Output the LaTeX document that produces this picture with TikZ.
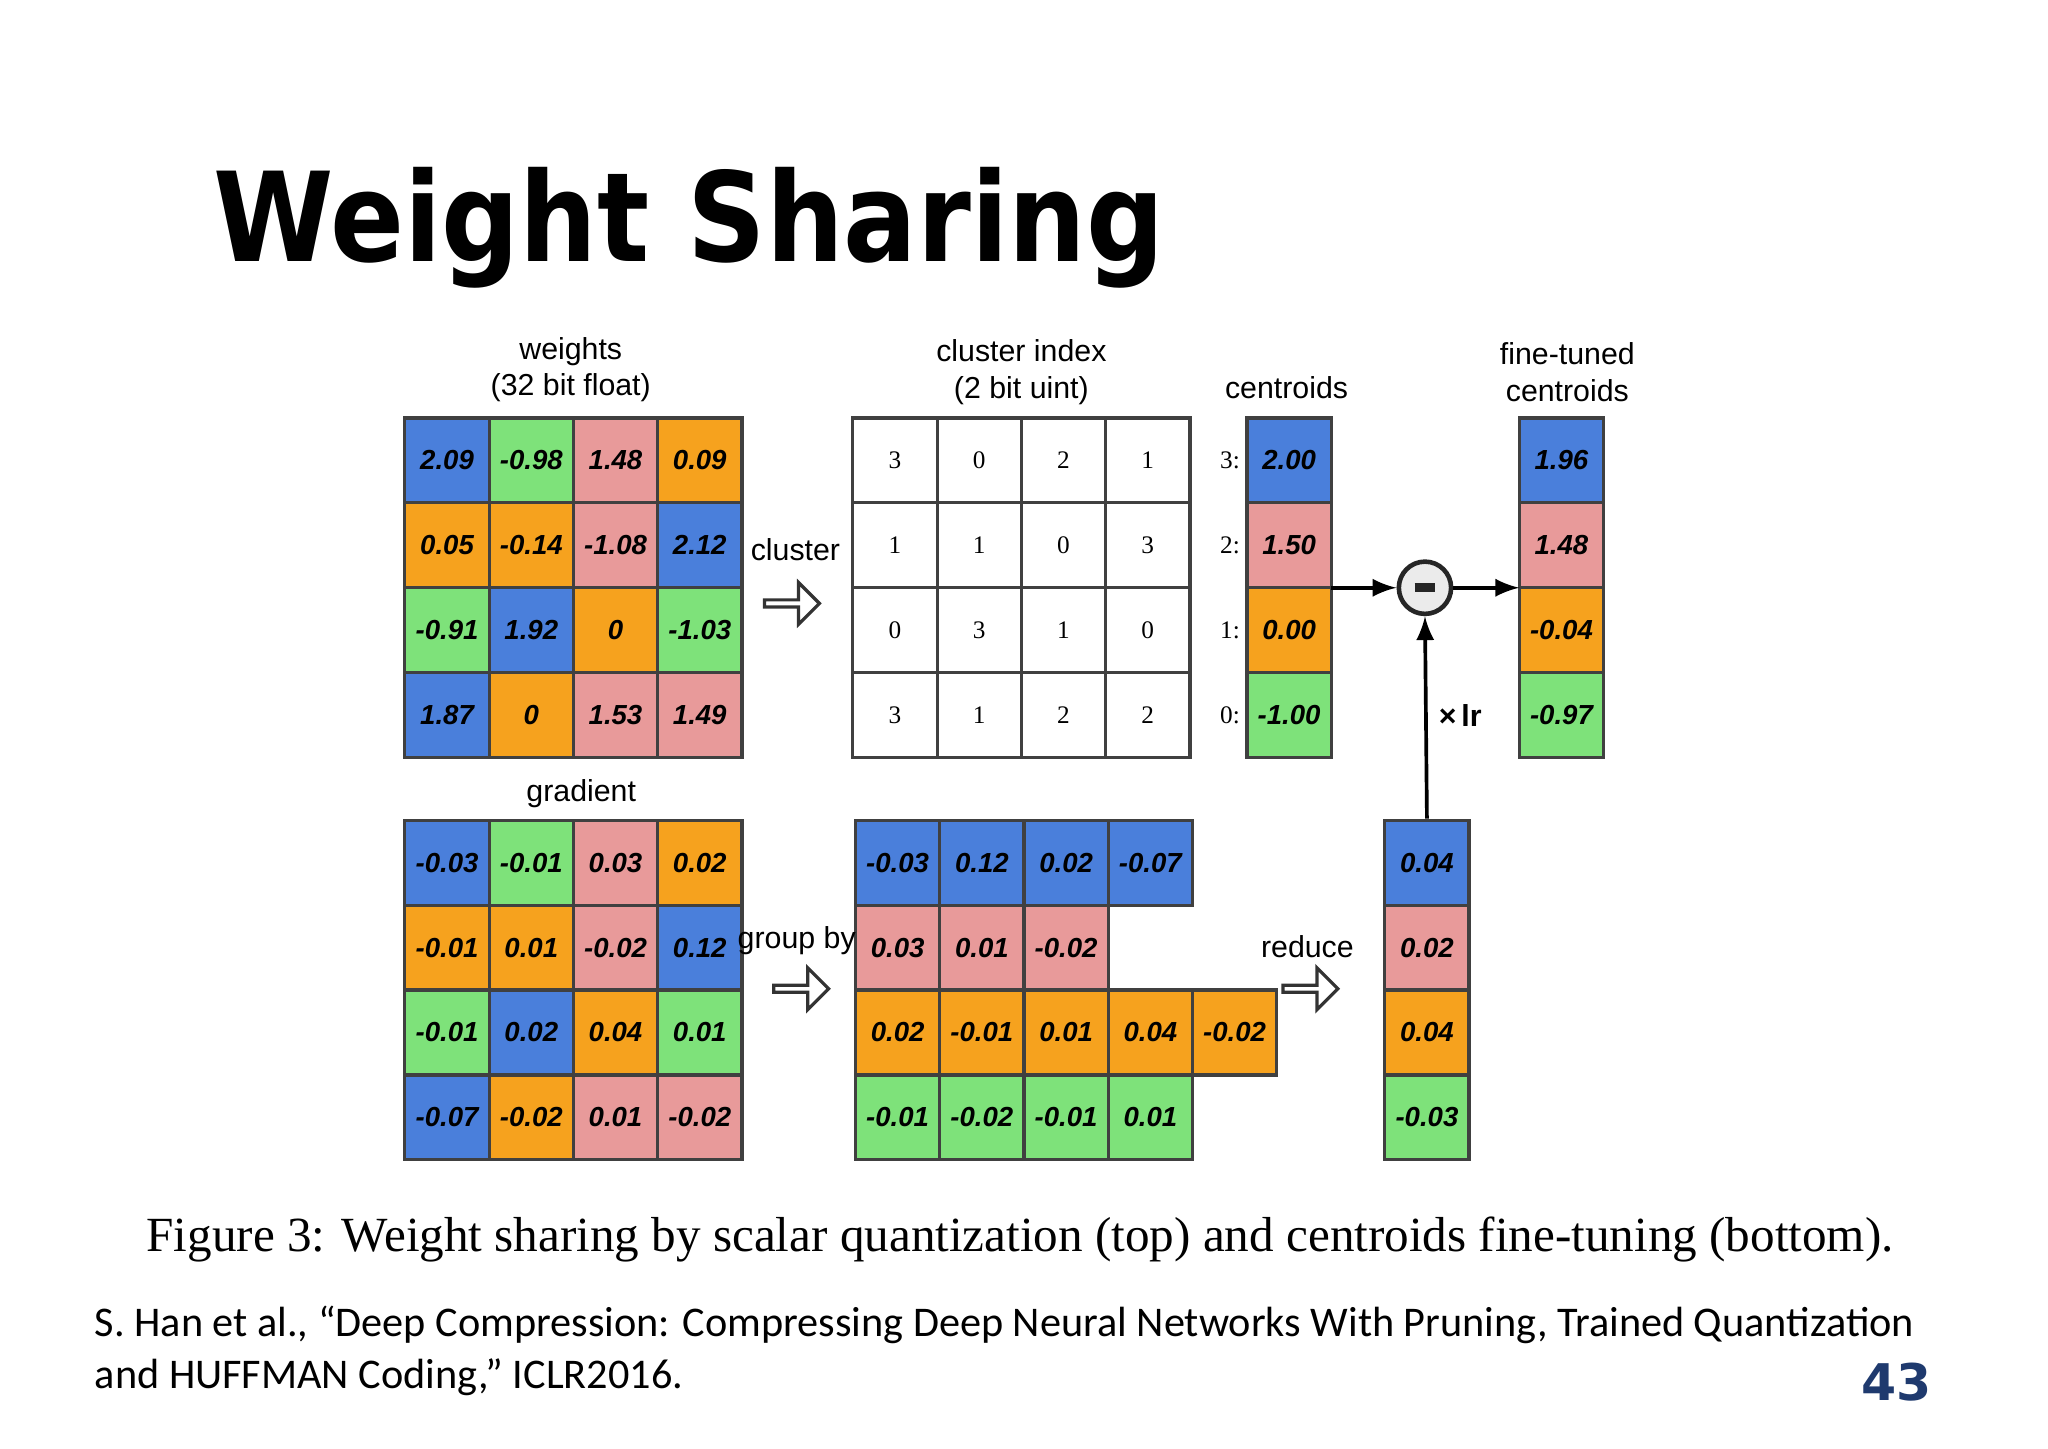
\documentclass[tikz,border=0pt]{standalone}
\usepackage{fontspec}
\setmainfont{Liberation Serif}
\setsansfont{Liberation Sans}
\newfontfamily\titlefont{DejaVu Sans}
\newfontfamily\citefont{Carlito}
\usetikzlibrary{shapes.arrows}
\definecolor{cB}{HTML}{4A7FDB}
\definecolor{cG}{HTML}{7EE27A}
\definecolor{cP}{HTML}{E89A9A}
\definecolor{cO}{HTML}{F6A21E}
\definecolor{navy}{HTML}{1F3A6E}
\tikzset{
 cell/.style={draw=black!75,line width=0.7pt,minimum width=0.645cm,minimum height=0.65cm,inner sep=0pt,font=\sffamily\bfseries\itshape\fontsize{6}{7}\selectfont},
 icell/.style={draw=black!75,line width=0.7pt,fill=white,minimum width=0.645cm,minimum height=0.65cm,inner sep=0pt,font=\rmfamily\fontsize{5.5}{6}\selectfont},
 lbl/.style={font=\sffamily\fontsize{6.6}{8}\selectfont,align=center,inner sep=0pt},
 harrow/.style={single arrow,draw=black!80,fill=white,line width=0.7pt,minimum height=0.42cm,minimum width=0.32cm,single arrow head extend=0.06cm,inner sep=0pt},
 conn/.style={-latex,line width=0.8pt}
}
\begin{document}
\begin{tikzpicture}[x=0.01cm,y=-0.01cm]
\useasboundingbox[fill=white] (0,0) rectangle (1568,1109);
\node[anchor=base west,inner sep=0pt,xscale=0.88,transform shape,font=\titlefont\bfseries\fontsize{27}{30}\selectfont] (title) at (163,200) {Weight Sharing};
% weights
\foreach \r/\row in {1/{cB/2.09,cG/-0.98,cP/1.48,cO/0.09},2/{cO/0.05,cO/-0.14,cP/-1.08,cB/2.12},3/{cG/-0.91,cB/1.92,cO/0,cG/-1.03},4/{cB/1.87,cO/0,cP/1.53,cP/1.49}}{
 \foreach \col/\v [count=\c] in \row {
  \node[cell,fill=\col] (w\r\c) at ({310+64.5*(\c-0.5)},{320+65*(\r-0.5)}) {\v};
  \node[cell,fill=\col] (g\r\c) at ({310+64.5*(\c-0.5)},{628+65*(\r-0.5)}) {};
 }}
\foreach \r/\row in {1/{-0.03,-0.01,0.03,0.02},2/{-0.01,0.01,-0.02,0.12},3/{-0.01,0.02,0.04,0.01},4/{-0.07,-0.02,0.01,-0.02}}{
 \foreach \v [count=\c] in \row {\node[cell,draw=none] at (g\r\c) {\v};}}
% cluster index
\foreach \r/\row in {1/{3,0,2,1},2/{1,1,0,3},3/{0,3,1,0},4/{3,1,2,2}}{
 \foreach \v [count=\c] in \row {
  \node[icell] (i\r\c) at ({653+64.5*(\c-0.5)},{320+65*(\r-0.5)}) {\v};}}
% centroids
\foreach \col/\v/\k [count=\r] in {cB/2.00/3,cP/1.50/2,cO/0.00/1,cG/-1.00/0}{
 \node[cell,fill=\col] (c\r) at (987,{320+65*(\r-0.5)}) {\v};
 \node[font=\rmfamily\fontsize{5.5}{6}\selectfont,anchor=east,inner sep=1pt] at (c\r.west) {\k:};}
\foreach \col/\v [count=\r] in {cB/1.96,cP/1.48,cO/-0.04,cG/-0.97}{
 \node[cell,fill=\col] (f\r) at (1195.5,{320+65*(\r-0.5)}) {\v};}
% grouped
\foreach \r/\col/\row in {1/cB/{-0.03,0.12,0.02,-0.07},2/cP/{0.03,0.01,-0.02},3/cO/{0.02,-0.01,0.01,0.04,-0.02},4/cG/{-0.01,-0.02,-0.01,0.01}}{
 \foreach \v [count=\c] in \row {
  \node[cell,fill=\col] (q\r\c) at ({655+64.5*(\c-0.5)},{628+65*(\r-0.5)}) {\v};}}
% reduced
\foreach \col/\v [count=\r] in {cB/0.04,cP/0.02,cO/0.04,cG/-0.03}{
 \node[cell,fill=\col] (d\r) at (1092.5,{628+65*(\r-0.5)}) {\v};}
% labels
\node[lbl] (lw) at (437,283) {weights\\(32 bit float)};
\node[lbl] (li) at (782,285) {cluster index\\(2 bit uint)};
\node[lbl] (lc) at (985,297) {centroids};
\node[lbl] (lf) at (1200,285) {fine-tuned\\centroids};
\node[lbl] (lg) at (445,608) {gradient};
\node[lbl] (lcl) at (609,421) {cluster};
\node[harrow] (a1) at (605,462) {};
\node[lbl] (lgb) at (610,720) {group by};
\node[harrow] (a2) at (612,757) {};
\node[lbl] (lr) at (1001,725) {reduce};
\node[harrow] (a3) at (1002,757) {};
% minus
\node[circle,draw=black!85,line width=1pt,fill=black!8,minimum size=0.4cm,inner sep=0pt] (m) at (1091,450) {};
\draw[line width=2pt,black!85] ([xshift=-0.08cm]m.center) -- ([xshift=0.08cm]m.center);
\draw[conn] (987+32.25,450) -- (m);
\draw[conn] (m) -- (1195.5-32.25,450);
\draw[conn] (d1.north) -- (m.south);
\node[lbl,font=\sffamily\bfseries\fontsize{6.6}{8}\selectfont] (lr2) at (1118,548) {\texttimes\,lr};
% caption
\node[anchor=base,inner sep=0pt,font=\rmfamily\fontsize{10.7}{12}\selectfont] (cap) at (781,958) {Figure 3: Weight sharing by scalar quantization (top) and centroids fine-tuning (bottom).};
\node[anchor=base west,inner sep=0pt,align=left,font=\citefont\fontsize{9.2}{11.2}\selectfont] (cite) at (72,1063) {S. Han et al., “Deep Compression: Compressing Deep Neural Networks With Pruning, Trained Quantization\\and HUFFMAN Coding,” ICLR2016.};
\node[anchor=base east,inner sep=0pt,font=\titlefont\bfseries\fontsize{11}{12}\selectfont,text=navy] (pg) at (1480,1072) {43};
\end{tikzpicture}
\end{document}
